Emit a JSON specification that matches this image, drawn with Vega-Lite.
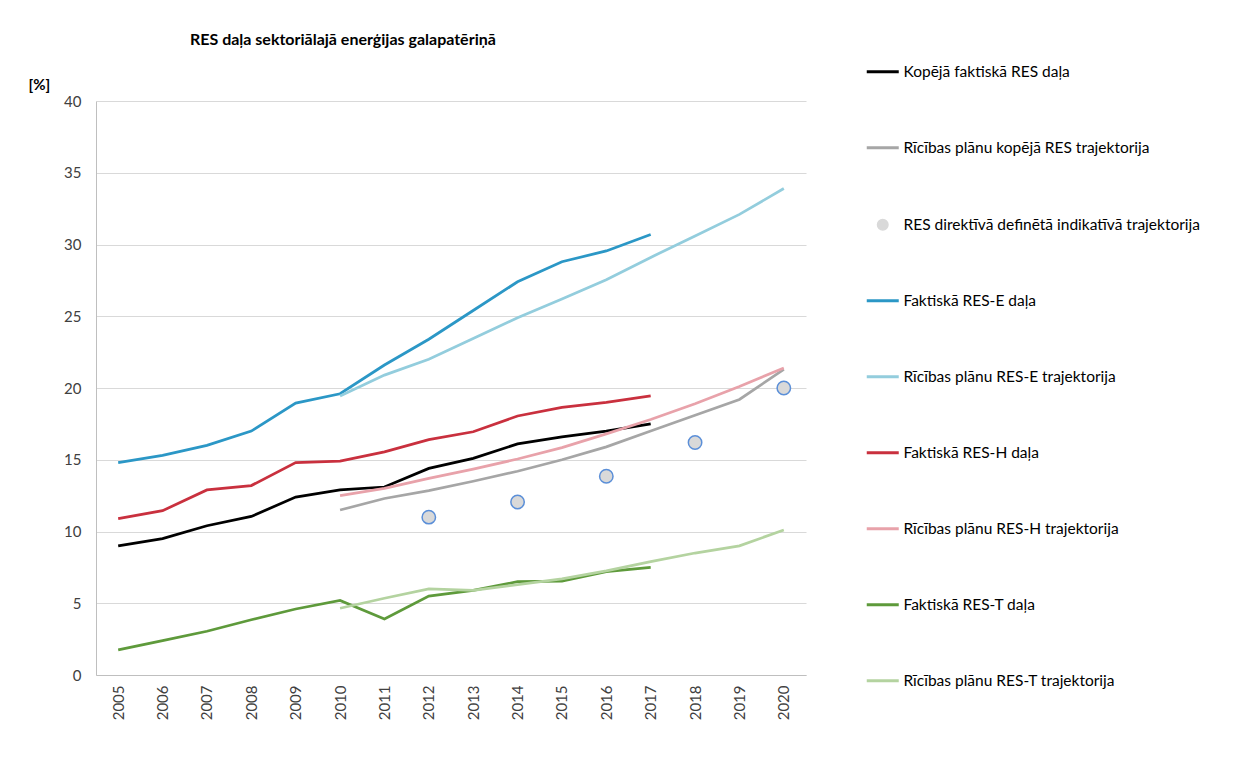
{
  "$schema": "https://vega.github.io/schema/vega-lite/v6.json",
  "width": 710,
  "height": 574,
  "autosize": {"type": "none"},
  "padding": {"left": 96, "top": 101, "right": 441, "bottom": 95},
  "background": "white",
  "config": {"view": {"stroke": null}, "font": "Lato"},
  "title": {"text": "RES daļa sektoriālajā enerģijas galapatēriņā", "anchor": "start", "frame": "group", "dx": 94, "offset": 16, "fontSize": 16, "fontWeight": "bold", "font": "Lato", "color": "#000000"},
  "data": {"values": [
    {"year": "2005", "series": "Kopējā faktiskā RES daļa", "value": 9.0},
    {"year": "2006", "series": "Kopējā faktiskā RES daļa", "value": 9.5},
    {"year": "2007", "series": "Kopējā faktiskā RES daļa", "value": 10.4},
    {"year": "2008", "series": "Kopējā faktiskā RES daļa", "value": 11.05},
    {"year": "2009", "series": "Kopējā faktiskā RES daļa", "value": 12.4},
    {"year": "2010", "series": "Kopējā faktiskā RES daļa", "value": 12.9},
    {"year": "2011", "series": "Kopējā faktiskā RES daļa", "value": 13.1},
    {"year": "2012", "series": "Kopējā faktiskā RES daļa", "value": 14.4},
    {"year": "2013", "series": "Kopējā faktiskā RES daļa", "value": 15.1},
    {"year": "2014", "series": "Kopējā faktiskā RES daļa", "value": 16.1},
    {"year": "2015", "series": "Kopējā faktiskā RES daļa", "value": 16.6},
    {"year": "2016", "series": "Kopējā faktiskā RES daļa", "value": 17.0},
    {"year": "2017", "series": "Kopējā faktiskā RES daļa", "value": 17.5},
    {"year": "2010", "series": "Rīcības plānu kopējā RES trajektorija", "value": 11.5},
    {"year": "2011", "series": "Rīcības plānu kopējā RES trajektorija", "value": 12.3},
    {"year": "2012", "series": "Rīcības plānu kopējā RES trajektorija", "value": 12.85},
    {"year": "2013", "series": "Rīcības plānu kopējā RES trajektorija", "value": 13.5},
    {"year": "2014", "series": "Rīcības plānu kopējā RES trajektorija", "value": 14.2},
    {"year": "2015", "series": "Rīcības plānu kopējā RES trajektorija", "value": 15.0},
    {"year": "2016", "series": "Rīcības plānu kopējā RES trajektorija", "value": 15.9},
    {"year": "2017", "series": "Rīcības plānu kopējā RES trajektorija", "value": 17.0},
    {"year": "2018", "series": "Rīcības plānu kopējā RES trajektorija", "value": 18.1},
    {"year": "2019", "series": "Rīcības plānu kopējā RES trajektorija", "value": 19.2},
    {"year": "2020", "series": "Rīcības plānu kopējā RES trajektorija", "value": 21.3},
    {"year": "2012", "series": "RES direktīvā definētā indikatīvā trajektorija", "value": 11.0},
    {"year": "2014", "series": "RES direktīvā definētā indikatīvā trajektorija", "value": 12.05},
    {"year": "2016", "series": "RES direktīvā definētā indikatīvā trajektorija", "value": 13.85},
    {"year": "2018", "series": "RES direktīvā definētā indikatīvā trajektorija", "value": 16.2},
    {"year": "2020", "series": "RES direktīvā definētā indikatīvā trajektorija", "value": 20.0},
    {"year": "2005", "series": "Faktiskā RES-E daļa", "value": 14.8},
    {"year": "2006", "series": "Faktiskā RES-E daļa", "value": 15.3},
    {"year": "2007", "series": "Faktiskā RES-E daļa", "value": 16.0},
    {"year": "2008", "series": "Faktiskā RES-E daļa", "value": 17.0},
    {"year": "2009", "series": "Faktiskā RES-E daļa", "value": 18.95},
    {"year": "2010", "series": "Faktiskā RES-E daļa", "value": 19.6},
    {"year": "2011", "series": "Faktiskā RES-E daļa", "value": 21.6},
    {"year": "2012", "series": "Faktiskā RES-E daļa", "value": 23.4},
    {"year": "2013", "series": "Faktiskā RES-E daļa", "value": 25.4},
    {"year": "2014", "series": "Faktiskā RES-E daļa", "value": 27.4},
    {"year": "2015", "series": "Faktiskā RES-E daļa", "value": 28.8},
    {"year": "2016", "series": "Faktiskā RES-E daļa", "value": 29.55},
    {"year": "2017", "series": "Faktiskā RES-E daļa", "value": 30.7},
    {"year": "2010", "series": "Rīcības plānu RES-E trajektorija", "value": 19.45},
    {"year": "2011", "series": "Rīcības plānu RES-E trajektorija", "value": 20.9},
    {"year": "2012", "series": "Rīcības plānu RES-E trajektorija", "value": 22.0},
    {"year": "2013", "series": "Rīcības plānu RES-E trajektorija", "value": 23.45},
    {"year": "2014", "series": "Rīcības plānu RES-E trajektorija", "value": 24.9},
    {"year": "2015", "series": "Rīcības plānu RES-E trajektorija", "value": 26.2},
    {"year": "2016", "series": "Rīcības plānu RES-E trajektorija", "value": 27.55},
    {"year": "2017", "series": "Rīcības plānu RES-E trajektorija", "value": 29.1},
    {"year": "2018", "series": "Rīcības plānu RES-E trajektorija", "value": 30.6},
    {"year": "2019", "series": "Rīcības plānu RES-E trajektorija", "value": 32.1},
    {"year": "2020", "series": "Rīcības plānu RES-E trajektorija", "value": 33.9},
    {"year": "2005", "series": "Faktiskā RES-H daļa", "value": 10.9},
    {"year": "2006", "series": "Faktiskā RES-H daļa", "value": 11.45},
    {"year": "2007", "series": "Faktiskā RES-H daļa", "value": 12.9},
    {"year": "2008", "series": "Faktiskā RES-H daļa", "value": 13.2},
    {"year": "2009", "series": "Faktiskā RES-H daļa", "value": 14.8},
    {"year": "2010", "series": "Faktiskā RES-H daļa", "value": 14.9},
    {"year": "2011", "series": "Faktiskā RES-H daļa", "value": 15.55},
    {"year": "2012", "series": "Faktiskā RES-H daļa", "value": 16.4},
    {"year": "2013", "series": "Faktiskā RES-H daļa", "value": 16.95},
    {"year": "2014", "series": "Faktiskā RES-H daļa", "value": 18.05},
    {"year": "2015", "series": "Faktiskā RES-H daļa", "value": 18.65},
    {"year": "2016", "series": "Faktiskā RES-H daļa", "value": 19.0},
    {"year": "2017", "series": "Faktiskā RES-H daļa", "value": 19.45},
    {"year": "2010", "series": "Rīcības plānu RES-H trajektorija", "value": 12.5},
    {"year": "2011", "series": "Rīcības plānu RES-H trajektorija", "value": 13.0},
    {"year": "2012", "series": "Rīcības plānu RES-H trajektorija", "value": 13.7},
    {"year": "2013", "series": "Rīcības plānu RES-H trajektorija", "value": 14.35},
    {"year": "2014", "series": "Rīcības plānu RES-H trajektorija", "value": 15.05},
    {"year": "2015", "series": "Rīcības plānu RES-H trajektorija", "value": 15.85},
    {"year": "2016", "series": "Rīcības plānu RES-H trajektorija", "value": 16.8},
    {"year": "2017", "series": "Rīcības plānu RES-H trajektorija", "value": 17.8},
    {"year": "2018", "series": "Rīcības plānu RES-H trajektorija", "value": 18.9},
    {"year": "2019", "series": "Rīcības plānu RES-H trajektorija", "value": 20.1},
    {"year": "2020", "series": "Rīcības plānu RES-H trajektorija", "value": 21.4},
    {"year": "2005", "series": "Faktiskā RES-T daļa", "value": 1.75},
    {"year": "2006", "series": "Faktiskā RES-T daļa", "value": 2.4},
    {"year": "2007", "series": "Faktiskā RES-T daļa", "value": 3.05},
    {"year": "2008", "series": "Faktiskā RES-T daļa", "value": 3.85},
    {"year": "2009", "series": "Faktiskā RES-T daļa", "value": 4.6},
    {"year": "2010", "series": "Faktiskā RES-T daļa", "value": 5.2},
    {"year": "2011", "series": "Faktiskā RES-T daļa", "value": 3.9},
    {"year": "2012", "series": "Faktiskā RES-T daļa", "value": 5.5},
    {"year": "2013", "series": "Faktiskā RES-T daļa", "value": 5.9},
    {"year": "2014", "series": "Faktiskā RES-T daļa", "value": 6.5},
    {"year": "2015", "series": "Faktiskā RES-T daļa", "value": 6.55},
    {"year": "2016", "series": "Faktiskā RES-T daļa", "value": 7.2},
    {"year": "2017", "series": "Faktiskā RES-T daļa", "value": 7.5},
    {"year": "2010", "series": "Rīcības plānu RES-T trajektorija", "value": 4.65},
    {"year": "2011", "series": "Rīcības plānu RES-T trajektorija", "value": 5.35},
    {"year": "2012", "series": "Rīcības plānu RES-T trajektorija", "value": 6.0},
    {"year": "2013", "series": "Rīcības plānu RES-T trajektorija", "value": 5.9},
    {"year": "2014", "series": "Rīcības plānu RES-T trajektorija", "value": 6.3},
    {"year": "2015", "series": "Rīcības plānu RES-T trajektorija", "value": 6.7},
    {"year": "2016", "series": "Rīcības plānu RES-T trajektorija", "value": 7.25},
    {"year": "2017", "series": "Rīcības plānu RES-T trajektorija", "value": 7.9},
    {"year": "2018", "series": "Rīcības plānu RES-T trajektorija", "value": 8.5},
    {"year": "2019", "series": "Rīcības plānu RES-T trajektorija", "value": 9.0},
    {"year": "2020", "series": "Rīcības plānu RES-T trajektorija", "value": 10.1}
  ]},
  "encoding": {
    "x": {"field": "year", "type": "ordinal", "scale": {"padding": 0.5},
      "axis": {"title": null, "labelAngle": -90, "ticks": false, "labelPadding": 10, "domainColor": "#BFBFBF", "labelFontSize": 15, "labelColor": "#404040", "labelFont": "Lato"}},
    "y": {"field": "value", "type": "quantitative", "scale": {"domain": [0, 40], "nice": false},
      "axis": {"values": [0, 5, 10, 15, 20, 25, 30, 35, 40], "grid": true, "gridColor": "#D9D9D9", "domainColor": "#BFBFBF", "ticks": false, "labelPadding": 15, "labelFontSize": 15, "labelColor": "#404040", "labelFont": "Lato",
        "title": "[%]", "titleAngle": 0, "titleX": -68, "titleY": -17, "titleAlign": "left", "titleBaseline": "middle", "titleFontWeight": "bold", "titleFontSize": 15, "titleFont": "Lato", "titleColor": "#000000"}}
  },
  "layer": [
    {
      "transform": [{"filter": "datum.series !== 'RES direktīvā definētā indikatīvā trajektorija'"}],
      "mark": {"type": "line", "strokeWidth": 2.75},
      "encoding": {
        "color": {"field": "series", "type": "nominal",
          "scale": {
            "domain": ["Kopējā faktiskā RES daļa", "Rīcības plānu kopējā RES trajektorija", "RES direktīvā definētā indikatīvā trajektorija", "Faktiskā RES-E daļa", "Rīcības plānu RES-E trajektorija", "Faktiskā RES-H daļa", "Rīcības plānu RES-H trajektorija", "Faktiskā RES-T daļa", "Rīcības plānu RES-T trajektorija"],
            "range": ["#000000", "#A6A6A6", "#D9D9D9", "#2B97C6", "#93CDDD", "#C9303E", "#E8A2AA", "#5E9A3B", "#B4D3A0"]
          },
          "legend": {
            "orient": "none", "legendX": 779, "legendY": -37, "title": null,
            "symbolType": "stroke", "symbolSize": 1024, "symbolStrokeWidth": 3,
            "labelFontSize": 15.5, "labelFont": "Lato", "labelColor": "#000000", "labelLimit": 400, "labelOffset": 13,
            "rowPadding": 59, "padding": 0,
            "encode": {"symbols": {"update": {
              "shape": {"signal": "datum.value === 'RES direktīvā definētā indikatīvā trajektorija' ? 'circle' : 'stroke'"},
              "size": {"signal": "datum.value === 'RES direktīvā definētā indikatīvā trajektorija' ? 110 : 1024"},
              "fill": {"signal": "datum.value === 'RES direktīvā definētā indikatīvā trajektorija' ? '#D9D9D9' : 'transparent'"},
              "stroke": {"signal": "datum.value === 'RES direktīvā definētā indikatīvā trajektorija' ? '#7FA8E0' : scale('color', datum.value)"},
              "strokeWidth": {"signal": "datum.value === 'RES direktīvā definētā indikatīvā trajektorija' ? 1.5 : 3"}
            }}}
          }
        }
      }
    },
    {
      "transform": [{"filter": "datum.series === 'RES direktīvā definētā indikatīvā trajektorija'"}],
      "mark": {"type": "point", "shape": "circle", "filled": true, "fill": "#D9D9D9", "stroke": "#5B8FD8", "strokeWidth": 1.5, "size": 180, "opacity": 1}
    }
  ]
}
